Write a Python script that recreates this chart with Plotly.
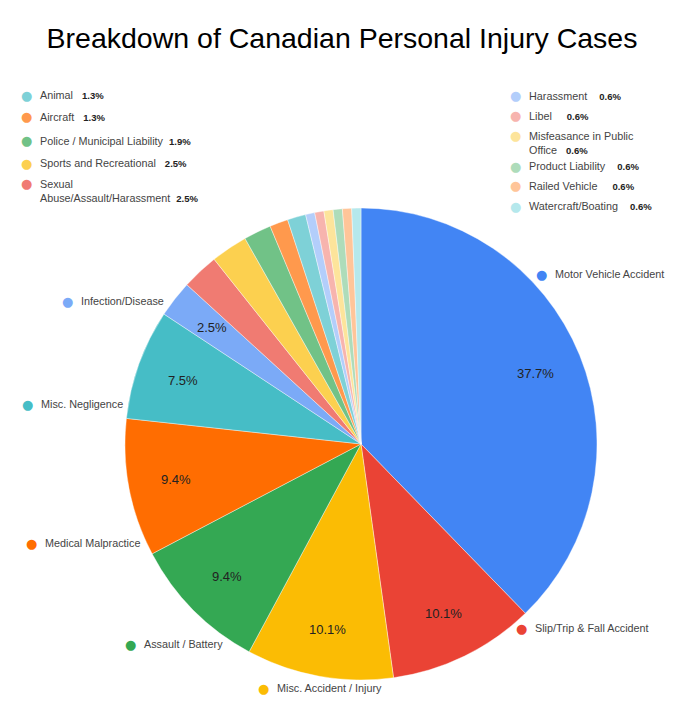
import math
import plotly.graph_objects as go

# the page body has an 8px margin, so the figure is drawn smaller and shifted
PAGE_W, PAGE_H = 677, 716
OFF = 8
W, H = PAGE_W - 2 * OFF, PAGE_H - 2 * OFF

# case counts, in clockwise order starting at 12 o'clock
categories = [
    "Motor Vehicle Accident",
    "Slip/Trip & Fall Accident",
    "Misc. Accident / Injury",
    "Assault / Battery",
    "Medical Malpractice",
    "Misc. Negligence",
    "Infection/Disease",
    "Sexual\nAbuse/Assault/Harassment",
    "Sports and Recreational",
    "Police / Municipal Liability",
    "Aircraft",
    "Animal",
    "Harassment",
    "Libel",
    "Misfeasance in Public\nOffice",
    "Product Liability",
    "Railed Vehicle",
    "Watercraft/Boating",
]
case_counts = [60, 16, 16, 15, 15, 12, 4, 4, 4, 3, 2, 2, 1, 1, 1, 1, 1, 1]

colors = [
    "#4285f4", "#ea4335", "#fbbc04", "#34a853", "#ff6d01", "#46bdc6",
    "#7baaf7", "#f07b72", "#fcd04f", "#71c287", "#ff994d", "#7ed1d7",
    "#b3cefb", "#f7b4ae", "#fde49b", "#aedcba", "#ffc599", "#b5e8ec",
]

# slices big enough to carry their percentage inside
n_inside = 7

# label placement in page pixels: (dot x, dot y, text x, spaces before pct)
label_pos = [
    (541, 274, 553, 0),
    (521, 628, 533, 0),
    (263, 688, 275, 0),
    (130, 644, 142, 0),
    (31, 543, 43, 0),
    (27, 404, 39, 0),
    (67, 301, 79, 0),
    (26, 183, 38, 2),
    (26, 163, 38, 3),
    (26, 141, 38, 2),
    (26, 117, 38, 3),
    (26, 95, 38, 3),
    (515, 96, 527, 4),
    (515, 116, 527, 5),
    (515, 135, 527, 3),
    (515, 166, 527, 4),
    (515, 186, 527, 5),
    (515, 206, 527, 4),
]


def px(x):
    return (x - OFF) / W


def py(y):
    return 1 - (y - OFF) / H


total = sum(case_counts)
cx, cy, r = 361, 444, 236

fig = go.Figure()
fig.add_trace(
    go.Pie(
        labels=[c.replace("\n", " ") for c in categories],
        values=case_counts,
        sort=False,
        direction="clockwise",
        rotation=0,
        marker=dict(colors=colors, line=dict(color="white", width=0.4)),
        textinfo="none",
        hoverinfo="label+percent",
        domain=dict(x=[px(cx - r), px(cx + r)], y=[py(cy + r), py(cy - r)]),
        showlegend=False,
    )
)

annotations = []

# percentages inside the larger slices, at 0.8 of the radius on the mid angle
cum = 0
for i, val in enumerate(case_counts):
    mid = (cum + val / 2) / total * 2 * math.pi
    cum += val
    if i >= n_inside:
        continue
    tx = cx + 0.8 * r * math.sin(mid)
    ty = cy - 0.8 * r * math.cos(mid)
    annotations.append(
        dict(
            x=px(tx), y=py(ty), xref="paper", yref="paper",
            text=f"{val / total * 100:.1f}%", showarrow=False,
            xanchor="center", yanchor="middle",
            font=dict(family="Arial", size=13, color="#222222"),
        )
    )

# outside labels with coloured dots
for i, (name, val) in enumerate(zip(categories, case_counts)):
    dx, dy, tx, gap = label_pos[i]
    annotations.append(
        dict(
            x=px(dx), y=py(dy), xref="paper", yref="paper",
            text="●", showarrow=False, xanchor="center", yanchor="middle",
            font=dict(family="DejaVu Sans", size=13, color=colors[i]),
        )
    )
    txt = name.replace("\n", "<br>")
    if i >= n_inside:
        pct = f"{val / total * 100:.1f}%"
        txt += "\u00a0" * gap + f"<b><span style='font-size:9.5px;color:#222'>{pct}</span></b>"
    two_lines = "\n" in name
    annotations.append(
        dict(
            x=px(tx), y=py(dy - 7.5 if two_lines else dy), xref="paper", yref="paper",
            text=txt, showarrow=False, xanchor="left",
            yanchor="top" if two_lines else "middle", align="left",
            font=dict(family="Arial", size=10.8, color="#444444"),
        )
    )

fig.update_layout(
    width=W,
    height=H,
    margin=dict(l=0, r=0, t=0, b=0),
    paper_bgcolor="white",
    plot_bgcolor="white",
    title=dict(
        text="Breakdown of Canadian Personal Injury Cases",
        x=px(342), xanchor="center", y=py(38), yanchor="middle",
        font=dict(family="Arial", size=28.5, color="#000000"),
    ),
    annotations=annotations,
)

fig.write_html("out.html")
